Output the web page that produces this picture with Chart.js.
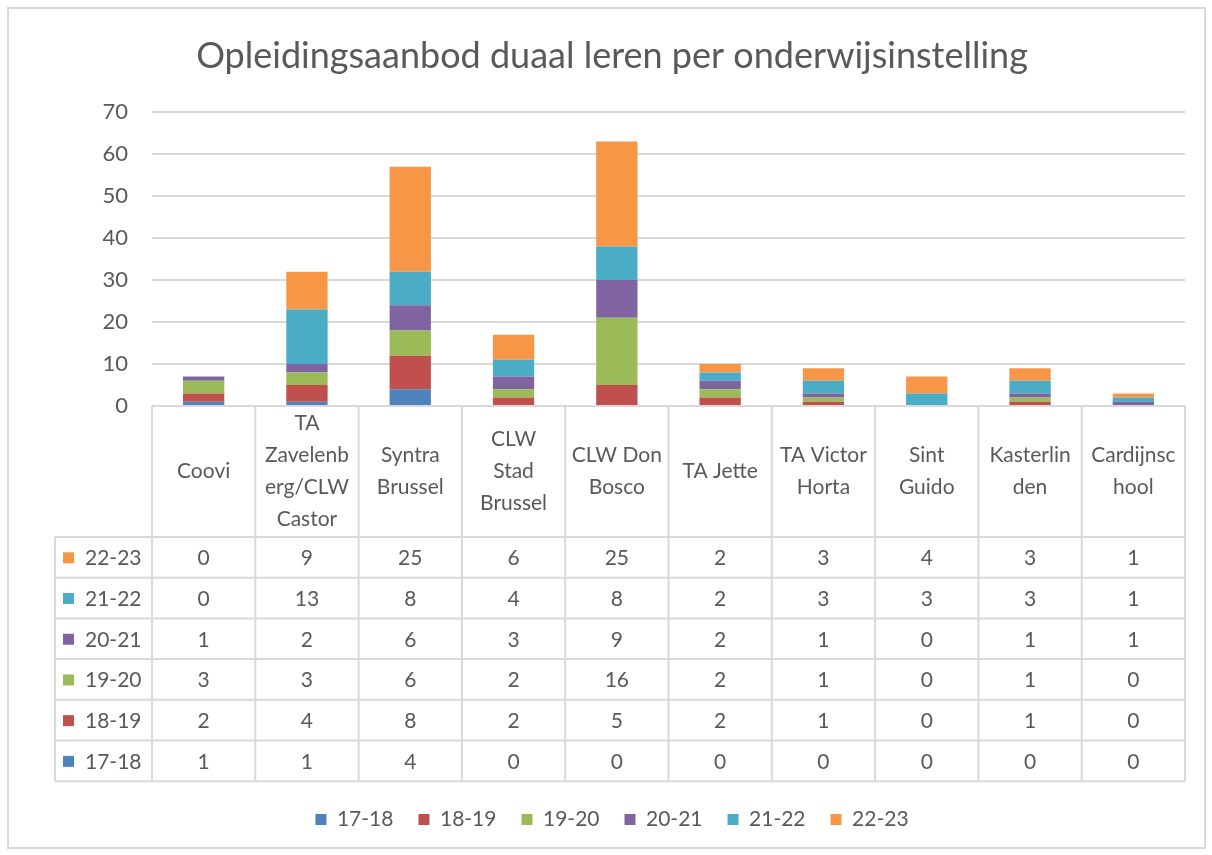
<!DOCTYPE html>
<html>
<head>
<meta charset="utf-8">
<script src="https://cdn.jsdelivr.net/npm/chart.js@4.4.0/dist/chart.umd.min.js"></script>
<style>
    body { margin: 0; background: #ffffff; }
    #wrap { width: 1212px; height: 855px; }
</style>
</head>
<body>
<div id="wrap"><canvas id="duaalChart" width="1212" height="855"></canvas></div>
<script>
// Data

var scholen = ['Coovi', 'TA Zavelenberg/CLW Castor', 'Syntra Brussel', 'CLW Stad Brussel', 'CLW Don Bosco',
    'TA Jette', 'TA Victor Horta', 'Sint Guido', 'Kasterlinden', 'Cardijnschool'];

// labels zoals ze in de tabel afgebroken worden
var schoolRegels = [
    ['Coovi'],
    ['TA', 'Zavelenb', 'erg/CLW', 'Castor'],
    ['Syntra', 'Brussel'],
    ['CLW', 'Stad', 'Brussel'],
    ['CLW Don', 'Bosco'],
    ['TA Jette'],
    ['TA Victor', 'Horta'],
    ['Sint', 'Guido'],
    ['Kasterlin', 'den'],
    ['Cardijnsc', 'hool']
];

var jaren = ['17-18', '18-19', '19-20', '20-21', '21-22', '22-23'];

var j1718 = [1, 1, 4, 0, 0, 0, 0, 0, 0, 0];
var j1819 = [2, 4, 8, 2, 5, 2, 1, 0, 1, 0];
var j1920 = [3, 3, 6, 2, 16, 2, 1, 0, 1, 0];
var j2021 = [1, 2, 6, 3, 9, 2, 1, 0, 1, 1];
var j2122 = [0, 13, 8, 4, 8, 2, 3, 3, 3, 1];
var j2223 = [0, 9, 25, 6, 25, 2, 3, 4, 3, 1];

var yTicks = [0, 10, 20, 30, 40, 50, 60, 70];

var kleuren = ['#4F81BD', '#C0504D', '#9BBB59', '#8064A2', '#4BACC6', '#F79646'];

var reeksen = [j1718, j1819, j1920, j2021, j2122, j2223];

var lettertype = 'Lato, "Open Sans", sans-serif';
var grijs = '#595959';
var lijn = '#d9d9d9';

// Kader + tabel

var kaderPlugin = {
    id: 'kader',
    beforeDraw: function (chart)
    {
        var c = chart.ctx;
        c.save();
        c.fillStyle = '#ffffff';
        c.fillRect(0, 0, chart.width, chart.height);
        c.strokeStyle = lijn;
        c.lineWidth = 2;
        c.strokeRect(8, 8, 1197, 840);
        c.restore();
    }
};

var tabelPlugin = {
    id: 'tabel',
    afterDraw: function (chart)
    {
        var c = chart.ctx;
        var area = chart.chartArea;
        var xs = chart.scales.x;
        var breedte = (area.right - area.left) / scholen.length;
        var kopTop = area.bottom;
        var kopHoogte = 131;
        var rijHoogte = 40.7;
        var tabelLinks = 55;
        var tabelOnder = kopTop + kopHoogte + rijHoogte * jaren.length;

        c.save();
        c.strokeStyle = lijn;
        c.lineWidth = 2;

        // verticale lijnen
        for (var i = 0; i <= scholen.length; i++)
        {
            var x = area.left + i * breedte;
            c.beginPath();
            c.moveTo(x, kopTop);
            c.lineTo(x, tabelOnder);
            c.stroke();
        }
        c.beginPath();
        c.moveTo(tabelLinks, kopTop + kopHoogte);
        c.lineTo(tabelLinks, tabelOnder);
        c.stroke();

        // horizontale lijnen
        c.beginPath();
        c.moveTo(area.left, kopTop);
        c.lineTo(area.right, kopTop);
        c.stroke();
        for (var r = 0; r <= jaren.length; r++)
        {
            var y = kopTop + kopHoogte + r * rijHoogte;
            c.beginPath();
            c.moveTo(tabelLinks, y);
            c.lineTo(area.right, y);
            c.stroke();
        }

        c.fillStyle = grijs;
        c.font = '21px ' + lettertype;
        c.textAlign = 'center';
        c.textBaseline = 'middle';

        // schoolnamen
        var regelHoogte = 32;
        for (var s = 0; s < scholen.length; s++)
        {
            var cx = xs.getPixelForValue(s);
            var regels = schoolRegels[s];
            var start = kopTop + kopHoogte / 2 - (regels.length - 1) * regelHoogte / 2;
            for (var k = 0; k < regels.length; k++)
            {
                c.fillText(regels[k], cx, start + k * regelHoogte);
            }
        }

        // rijen, 22-23 bovenaan
        for (var r2 = 0; r2 < jaren.length; r2++)
        {
            var idx = jaren.length - 1 - r2;
            var cy = kopTop + kopHoogte + r2 * rijHoogte + rijHoogte / 2;

            c.fillStyle = kleuren[idx];
            c.fillRect(63, cy - 5, 11, 11);
            c.fillStyle = grijs;
            c.textAlign = 'left';
            c.fillText(jaren[idx], 85, cy + 1);

            c.textAlign = 'center';
            for (var s2 = 0; s2 < scholen.length; s2++)
            {
                c.fillText(String(reeksen[idx][s2]), xs.getPixelForValue(s2), cy + 1);
            }
        }
        c.restore();
    }
};

// Chart

var datasets = [];
for (var d = 0; d < jaren.length; d++)
{
    datasets.push(
    {
        label: jaren[d],
        data: reeksen[d],
        backgroundColor: kleuren[d],
        borderWidth: 0,
        barPercentage: 0.4,
        categoryPercentage: 1.0
    });
}

var ctx = document.getElementById('duaalChart').getContext('2d');
var myChart = new Chart(ctx,
{
    type: 'bar',
    data:
    {
        labels: scholen,
        datasets: datasets
    },
    plugins: [kaderPlugin, tabelPlugin],
    options:
    {
        responsive: false,
        animation: false,
        layout:
        {
            padding: { left: 39, right: 27, top: 0, bottom: 15 }
        },
        plugins:
        {
            title:
            {
                display: true,
                text: 'Opleidingsaanbod duaal leren per onderwijsinstelling',
                color: grijs,
                font: { family: lettertype, size: 36, weight: 'normal' },
                padding: { top: 35, bottom: 34 }
            },
            legend:
            {
                position: 'bottom',
                labels:
                {
                    color: grijs,
                    boxWidth: 11,
                    boxHeight: 11,
                    padding: 25,
                    font: { family: lettertype, size: 21 }
                }
            },
            tooltip: { enabled: false }
        },
        scales:
        {
            x:
            {
                stacked: true,
                grid: { display: false },
                border: { display: false },
                ticks: { display: false },
                afterFit: function (scale)
                {
                    scale.height = 378;
                }
            },
            y:
            {
                stacked: true,
                min: 0,
                max: 70,
                afterBuildTicks: function (scale)
                {
                    scale.ticks = yTicks.map(function (v) { return { value: v }; });
                },
                afterFit: function (scale)
                {
                    scale.width = 113;
                },
                grid: { color: lijn, lineWidth: 2, drawTicks: false },
                border: { display: false },
                ticks:
                {
                    color: grijs,
                    padding: 24,
                    font: { family: lettertype, size: 22 }
                }
            }
        }
    }
});
</script>
</body>
</html>
